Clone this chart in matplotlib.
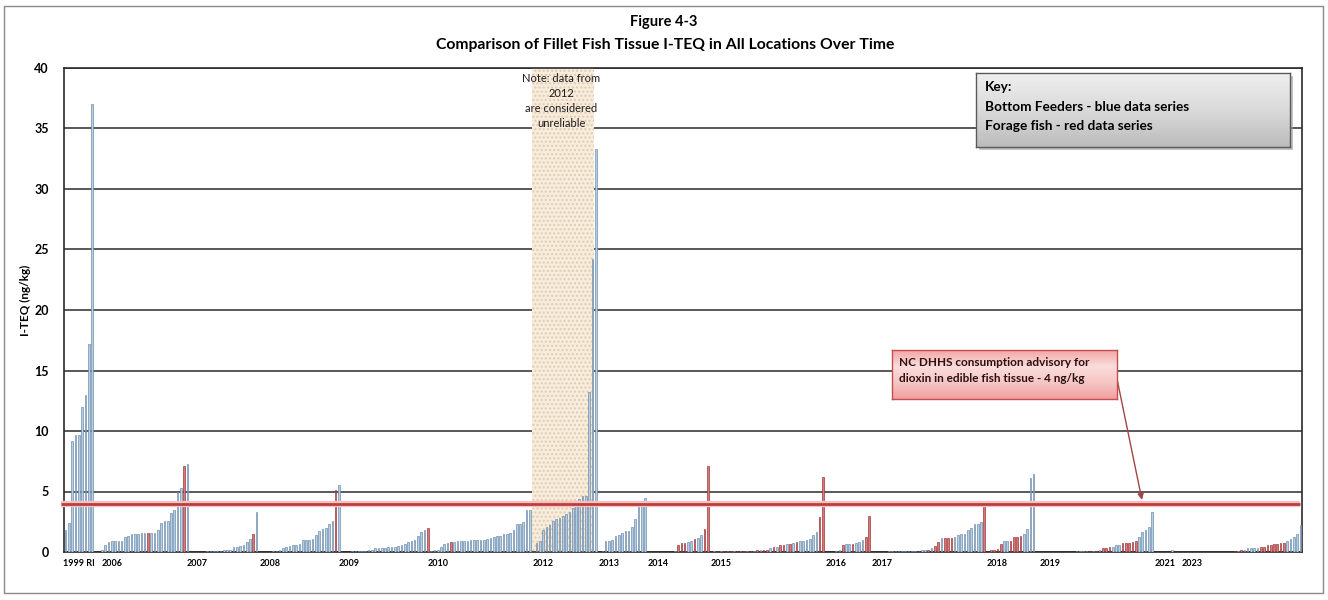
import numpy as np
import matplotlib
matplotlib.use("Agg")
import matplotlib.pyplot as plt
from matplotlib.patches import Rectangle

plt.rcParams['font.family'] = ['Lato', 'DejaVu Sans']

# I-TEQ (ng/kg) of fillet samples, grouped by sampling year.
# Series codes: "B" = bottom feeders (blue), "F" = forage fish (red), "-" = empty category
teq_1999 = [1.8, 2.4, 9.2, 9.7, 9.7, 12.0, 13.0, 17.2, 37.0]
sp_1999 = "BBBBBBBBB"
teq_2006 = [0.2, 0.55, 0.8, 0.95, 0.95, 0.95, 0.95, 1.2, 1.3, 1.45, 1.5, 1.5, 1.55, 1.55,
            1.6, 1.6, 1.6, 1.8, 2.4, 2.55, 2.6, 3.2, 3.45, 5.0, 5.3, 7.1, 7.3]
sp_2006 = "BBBBBBBBBBBBBBFBBBBBBBBBBFB"
teq_2007 = [0.05, 0.05, 0.08, 0.1, 0.12, 0.15, 0.2, 0.2, 0.45, 0.45, 0.5, 0.55, 0.8, 1.1, 1.5, 3.3]
sp_2007 = "BBBBBBBBBBBBBBFB"
teq_2008 = [0.08, 0.1, 0.15, 0.3, 0.45, 0.5, 0.55, 0.6, 0.65, 1.0, 1.0, 1.0, 1.05, 1.4, 1.7,
            1.9, 2.0, 2.35, 2.6, 5.1, 5.5]
sp_2008 = "BBBBBBBBBBBBBBBBBBBFB"
teq_2009 = [0.05, 0.05, 0.1, 0.1, 0.12, 0.15, 0.2, 0.3, 0.3, 0.3, 0.3, 0.45, 0.45, 0.45, 0.5,
            0.6, 0.7, 0.8, 0.9, 1.0, 1.3, 1.65, 1.8, 1.95]
sp_2009 = "BBBBBBBBBBBBBBBBBBBBBBBF"
teq_2010 = [0.08, 0.14, 0.2, 0.4, 0.65, 0.75, 0.85, 0.85, 0.9, 0.95, 0.95, 0.95, 1.0, 1.0, 1.0,
            1.0, 1.0, 1.05, 1.15, 1.25, 1.3, 1.35, 1.45, 1.5, 1.55, 1.8, 2.3, 2.35, 2.45, 3.45, 3.5]
sp_2010 = "BBBBBBFBBBBBBBBBBBBBBBBBBBBBBBB"
teq_2012 = [0.75, 0.9, 1.85, 2.05, 2.2, 2.6, 2.75, 2.85, 2.95, 3.1, 3.3, 3.65, 4.0, 4.4, 4.6,
            4.6, 13.2, 24.2, 33.3]
sp_2012 = "BBBBBBBBBBBBBBBBBBB"
teq_2013 = [0.05, 0.95, 0.95, 1.0, 1.3, 1.4, 1.55, 1.7, 1.7, 2.05, 2.75, 4.1, 4.25, 4.5]
sp_2013 = "BBBBBBBBBBBBBB"
teq_2014 = [0.1, 0.55, 0.75, 0.75, 0.8, 0.95, 1.05, 1.15, 1.4, 1.9, 7.1]
sp_2014 = "BFFFBBFBBFF"
teq_2015 = [0.05, 0.05, 0.05, 0.05, 0.08, 0.08, 0.08, 0.1, 0.1, 0.1, 0.1, 0.12, 0.12, 0.15,
            0.15, 0.2, 0.2, 0.3, 0.4, 0.45, 0.55, 0.55, 0.65, 0.65, 0.75, 0.8, 0.9, 0.95, 1.0,
            1.1, 1.4, 1.65, 2.9, 6.2]
sp_2015 = "BFBFBFBFBFBFBFBF" + "FBFBFFBFBFBBBBBBFF"
teq_2016 = [0.03, 0.1, 0.15, 0.55, 0.65, 0.65, 0.7, 0.75, 0.8, 1.0, 1.25, 3.0]
sp_2016 = "BBBFBBFBBBFF"
teq_2017 = [0.05, 0.05, 0.05, 0.05, 0.05, 0.05, 0.05, 0.08, 0.08, 0.1, 0.15, 0.15, 0.2,
            0.35, 0.5, 0.8, 1.15, 1.15, 1.15, 1.15, 1.25, 1.4, 1.5, 1.5, 1.8, 2.0, 2.3, 2.35,
            2.45, 4.1]
sp_2017 = "BBBBBBBBBFBBF" + "BFFBFFFBBBBBBBBB" + "F"
teq_2018 = [0.2, 0.2, 0.25, 0.65, 0.9, 0.9, 0.9, 1.25, 1.25, 1.3, 1.45, 1.9, 6.1, 6.45]
sp_2018 = "FFFFBBFFFFBBBB"
teq_2019 = [0.03, 0.03, 0.03, 0.03, 0.03, 0.03, 0.03, 0.03, 0.04, 0.04, 0.04, 0.05, 0.05, 0.05,
            0.05, 0.1, 0.1, 0.1, 0.15, 0.35, 0.35, 0.4, 0.45, 0.55, 0.55, 0.75, 0.75, 0.75, 0.8,
            0.9, 1.25, 1.65, 1.85, 2.1, 3.3]
sp_2019 = "BBBBBBBBBBBBBBB" + "FBFBFFFBBBFFFFFBBBBB"
teq_2021 = [0.2]
sp_2021 = "B"
teq_2023 = [0.1, 0.12, 0.15, 0.2, 0.3, 0.3, 0.35, 0.35, 0.45, 0.45, 0.55, 0.55, 0.65, 0.7,
            0.75, 0.75, 0.9, 1.1, 1.25, 1.5, 2.2]
sp_2023 = "FBFBBBBBFFFFFFFFBBBBB"

# empty categories between sampling years
gap_a = [0, 0]
gap_b = [0, 0, 0, 0, 0]
gap_c = [0, 0, 0, 0]
gap_d = [0, 0, 0]
gap_e = [0]
gap_f = [0, 0, 0, 0, 0, 0, 0, 0]
gap_g = [0] * 18

blocks = [
    (teq_1999, sp_1999), (gap_a, None), (teq_2006, sp_2006), (gap_b, None),
    (teq_2007, sp_2007), (gap_c, None), (teq_2008, sp_2008), (gap_d, None),
    (teq_2009, sp_2009), (teq_2010, sp_2010), (gap_e, None), (teq_2012, sp_2012),
    (gap_e, None), (teq_2013, sp_2013), (gap_f, None), (teq_2014, sp_2014),
    (gap_e, None), (teq_2015, sp_2015), (gap_a, None), (teq_2016, sp_2016),
    (gap_b, None), (teq_2017, sp_2017), (gap_e, None), (teq_2018, sp_2018),
    (gap_e, None), (teq_2019, sp_2019), (gap_b, None), (teq_2021, sp_2021),
    (gap_g, None), (teq_2023, sp_2023),
]

# category labels shown along the axis (category index -> label)
year_labels = ["1999 RI", "2006", "2007", "2008", "2009", "2010", "2012", "2013", "2014",
               "2015", "2016", "2017", "2018", "2019", "2021", "2023"]
label_slots = [4, 14, 40, 62, 86, 113, 145, 165, 180, 199, 234, 248, 283, 299, 334, 342]

advisory_level = 4.0
unreliable_span = (141.5, 160.5)

values, series = [], ""
for vals, sp in blocks:
    values += vals
    series += sp if sp is not None else "-" * len(vals)
values = np.array(values, dtype=float)
n = len(values)
x = np.arange(n)
is_b = np.array([c == "B" for c in series])
is_f = np.array([c == "F" for c in series])

W, H = 1328, 600
fig = plt.figure(figsize=(W / 100, H / 100), dpi=100)
ax = fig.add_axes([64 / W, 1 - 552 / H, (1302 - 64) / W, (552 - 68) / H])

# outer frame
fig.add_artist(Rectangle((4 / W, 7 / H), (1323 - 4) / W, (594 - 7) / H,
                         transform=fig.transFigure, fill=False, ec="#8a8a8a", lw=1.0))

ax.set_xlim(-0.5, n - 0.5)
ax.set_ylim(0, 40)
ax.set_yticks(np.arange(0, 41, 5))
ax.yaxis.grid(True, color="#3c3c3c", lw=1.2, zorder=1)
ax.set_axisbelow(True)
for s in ax.spines.values():
    s.set_color("#2a2a2a")
    s.set_linewidth(1.2)

# unreliable-data band
ax.axvspan(*unreliable_span, facecolor="#f8ecdc", edgecolor="#e0cbb0", hatch="....",
           lw=0, zorder=0.6)
ax.text(150.6, 37.3, "Note: data from\n2012\nare considered\nunreliable", ha="center",
        va="center", fontsize=8, color="#1e1e1e", linespacing=1.45, zorder=5)

ax.bar(x[is_b], values[is_b], width=0.5, color="#b3cfe5", edgecolor="#6885a3", lw=0.45, zorder=3)
ax.bar(x[is_f], values[is_f], width=0.5, color="#d47a7a", edgecolor="#9a2a2e", lw=0.45, zorder=3)

# advisory line
ax.plot([-1.5, n - 1.2], [advisory_level] * 2, color="#f4c2c2", lw=4.5, solid_capstyle="butt",
        zorder=4, clip_on=False)
ax.plot([-1.5, n - 1.2], [advisory_level] * 2, color="#bd3d3d", lw=2.0, solid_capstyle="butt",
        zorder=4.1, clip_on=False)

ax.set_xticks(label_slots)
ax.set_xticklabels(year_labels, fontsize=6.5, fontweight="bold")
ax.tick_params(axis="x", length=0, pad=5)
ax.tick_params(axis="y", length=0, pad=11, labelsize=9)
for t in ax.get_yticklabels():
    t.set_fontweight("bold")
ax.set_ylabel("I-TEQ (ng/kg)", fontsize=8.5, fontweight="bold")
ax.yaxis.set_label_coords(-0.027, 0.52)

fig.text(664 / W, 1 - 22 / H, "Figure 4-3", ha="center", va="center", fontsize=10.5,
         fontweight="bold")
fig.text(665 / W, 1 - 45 / H, "Comparison of Fillet Fish Tissue I-TEQ in All Locations Over Time",
         ha="center", va="center", fontsize=11.3, fontweight="bold")


def gradient_box(x0, y0, x1, y1, colors, edge, shadow=True):
    if shadow:
        sh = fig.add_axes([(x0 + 3) / W, 1 - (y1 + 3) / H, (x1 - x0) / W, (y1 - y0) / H])
        sh.set_facecolor("#9a9a9a")
        sh.set_xticks([]); sh.set_yticks([])
        for s in sh.spines.values():
            s.set_visible(False)
        sh.patch.set_alpha(0.6)
    bx = fig.add_axes([x0 / W, 1 - y1 / H, (x1 - x0) / W, (y1 - y0) / H])
    cmap = matplotlib.colors.LinearSegmentedColormap.from_list("g", colors)
    grad = np.linspace(0, 1, 100).reshape(-1, 1)
    bx.imshow(grad, aspect="auto", cmap=cmap, extent=[0, 1, 0, 1], origin="upper")
    bx.set_xlim(0, 1); bx.set_ylim(0, 1)
    bx.set_xticks([]); bx.set_yticks([])
    for s in bx.spines.values():
        s.set_color(edge)
        s.set_linewidth(1.0)
    return bx


# key box
gradient_box(976, 73, 1290, 147, ["#efefef", "#dadada", "#bcbcbc"], "#5a5a5a")
fig.text(985 / W, 1 - 87 / H, "Key:", fontsize=9.8, fontweight="bold", va="center")
fig.text(985 / W, 1 - 107 / H, "Bottom Feeders - blue data series", fontsize=9.8,
         fontweight="bold", va="center")
fig.text(985 / W, 1 - 126 / H, "Forage fish - red data series", fontsize=9.8,
         fontweight="bold", va="center")

# advisory callout
gradient_box(892, 350, 1117, 399, ["#f3a6a6", "#fbdcdc", "#f7c6c6", "#f1a0a0"], "#c0504d",
             shadow=False)
fig.text(899 / W, 1 - 363 / H, "NC DHHS consumption advisory for", fontsize=8.5,
         fontweight="bold", va="center", color="#2a1010")
fig.text(899 / W, 1 - 378 / H, "dioxin in edible fish tissue - 4 ng/kg", fontsize=8.5,
         fontweight="bold", va="center", color="#2a1010")
ax.annotate("", xy=(326.9, 4.3), xytext=(1116 / W, 1 - 374 / H), xycoords="data",
            textcoords="figure fraction",
            arrowprops=dict(arrowstyle="-|>", color="#a34545", lw=1.0, mutation_scale=9,
                            shrinkA=0, shrinkB=0), zorder=6)

fig.savefig("out.png", dpi=100)
